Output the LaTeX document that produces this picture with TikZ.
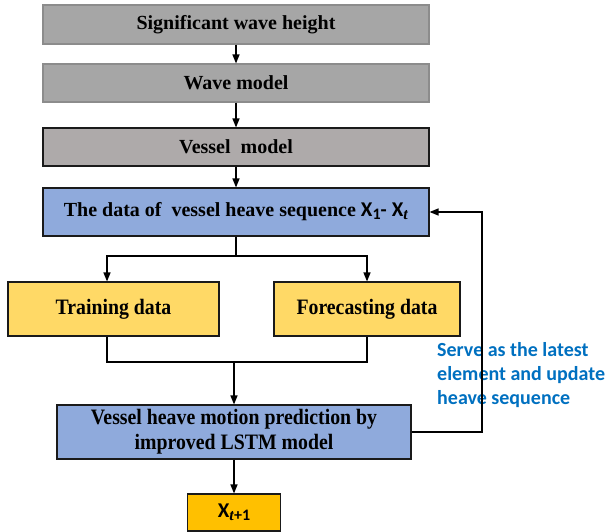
\documentclass[tikz,border=0pt]{standalone}
\usepackage{fontspec}
\setmainfont{Liberation Serif}
\newfontfamily\tall{Liberation Serif}[FakeStretch=0.9]
\newfontfamily\carl{Carlito}
\usetikzlibrary{arrows.meta}
\definecolor{gA}{HTML}{A6A6A6}
\definecolor{gAedge}{HTML}{8C8C8C}
\definecolor{gB}{HTML}{AEAAAA}
\definecolor{bl}{HTML}{8FAADC}
\definecolor{yl}{HTML}{FFD966}
\definecolor{or}{HTML}{FFC000}
\definecolor{txtblue}{HTML}{0070C0}
\definecolor{edge}{HTML}{1A1A1A}
\newcommand{\sx}[1]{{\carl\bfseries\fontsize{21}{24}\selectfont X}\raisebox{-3pt}{\fontsize{16}{16}\selectfont #1}}
\begin{document}
\begin{tikzpicture}[x=1pt,y=-1pt,
  box/.style={draw=edge, line width=1.1pt, inner sep=0pt, align=center,
    font=\fontsize{20}{24}\selectfont\bfseries},
  bigtext/.style={font=\tall\fontsize{22}{25}\selectfont\bfseries},
  graybox/.style={box, fill=gA, draw=gAedge},
  darkgray/.style={box, fill=gB},
  bluebox/.style={box, fill=bl},
  yellowbox/.style={box, bigtext, fill=yl},
  outbox/.style={box, fill=or},
  conn/.style={line width=1.3pt, draw=black},
  arr/.style={conn, -{Triangle[length=9pt,width=7pt]}}]
\useasboundingbox (0,0) rectangle (605,532);
\node[graybox, minimum width=386pt, minimum height=39pt] (b1) at (236,24.5) {Significant wave height};
\node[graybox, minimum width=386pt, minimum height=38pt] (b2) at (236,83) {Wave model};
\node[darkgray, minimum width=386pt, minimum height=38pt] (b3) at (236,147) {Vessel\ \ model};
\node[bluebox, minimum width=386pt, minimum height=48pt] (b4) at (236,212)
  {The data of\ \ vessel heave sequence \sx{\carl\bfseries 1}{\carl\bfseries -} \sx{\textit{t}}};
\node[yellowbox, minimum width=211pt, minimum height=54pt] (train) at (113.5,309) {Training data};
\node[yellowbox, minimum width=186pt, minimum height=54pt] (fore) at (367,309) {Forecasting data};
\node[bluebox, bigtext, minimum width=354pt, minimum height=54pt] (pred) at (234,432)
  {Vessel heave motion prediction by\\improved LSTM model};
\node[outbox, minimum width=93pt, minimum height=37pt] (xo) at (234,512.5) {\sx{\textit{t}\carl\bfseries +1}};
\node[anchor=north west, inner sep=0pt, align=left, text=txtblue,
  font=\carl\bfseries\fontsize{20}{24}\selectfont] (note) at (437,342)
  {Serve as the latest\\element and update\\heave sequence};
\coordinate (split) at (236,256);
\coordinate (tin) at ([xshift=-6.5pt]train.north);
\coordinate (tout) at ([xshift=-6.5pt]train.south);
\coordinate (join) at (234,362);
\coordinate (fb) at (482,432);
\draw[arr] (b1) -- (b2);
\draw[arr] (b2) -- (b3);
\draw[arr] (b3) -- (b4);
\draw[conn] (b4.south) -- (split);
\draw[arr] (split) -| (tin);
\draw[arr] (split) -| (fore.north);
\draw[conn] (tout) -- (tout |- join) -- (fore.south |- join) -- (fore.south);
\draw[arr] (join) -- (pred.north);
\draw[arr] (pred.east) -- (fb) |- (b4.east);
\draw[arr] (pred) -- (xo);
\end{tikzpicture}
\end{document}
